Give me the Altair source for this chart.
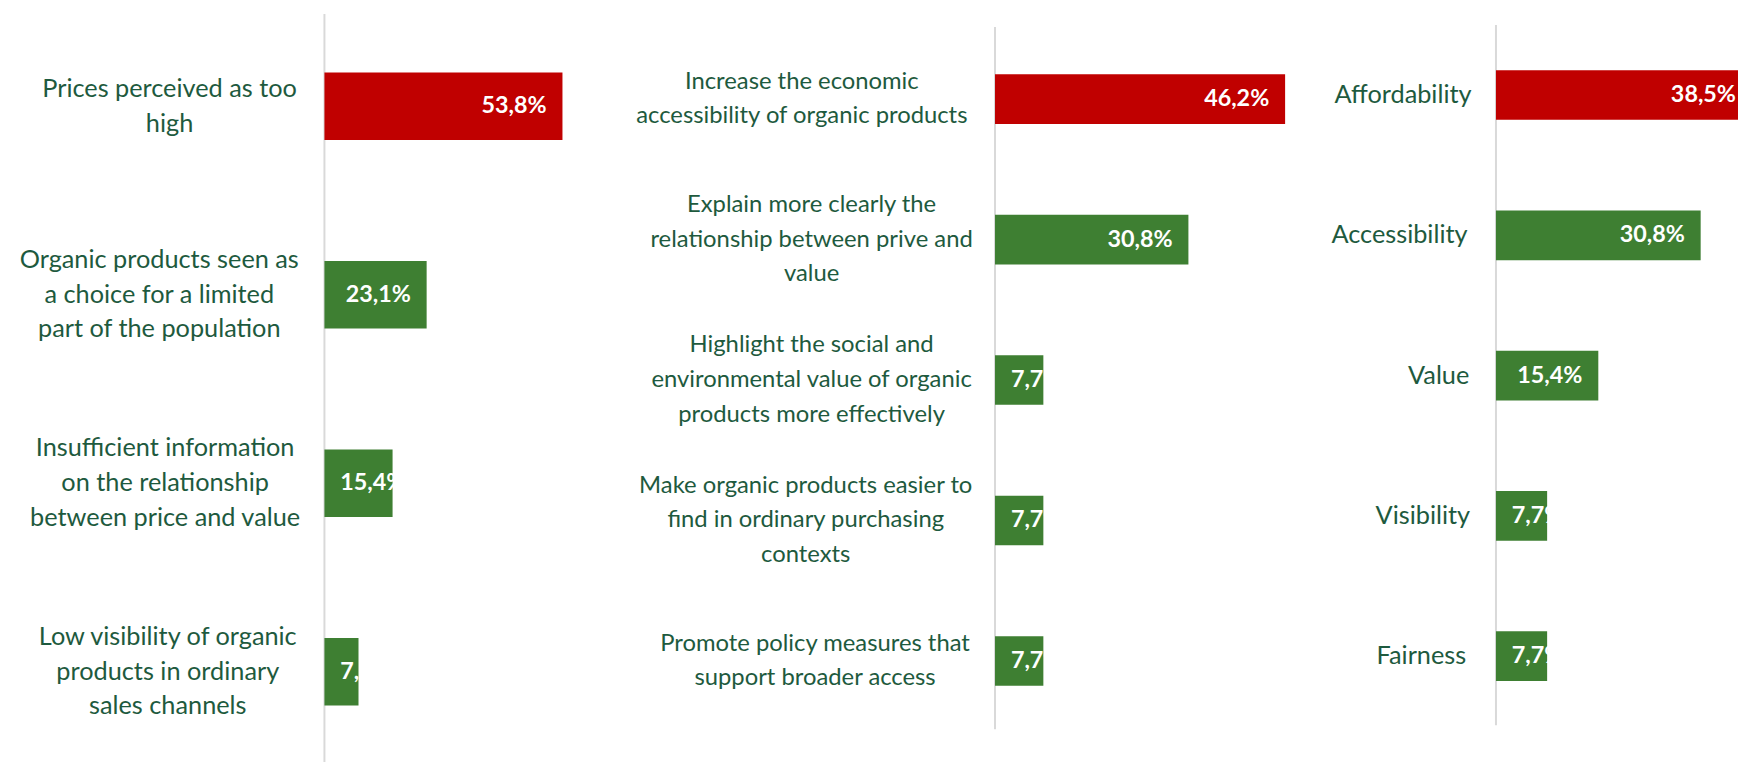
import altair as alt

# ---- data ----
p1_labels = [
    ["Prices perceived as too", "high"],
    ["Organic products seen as", "a choice for a limited", "part of the population"],
    ["Insufficient information", "on the relationship", "between price and value"],
    ["Low visibility of organic", "products in ordinary", "sales channels"],
]
p1_values = [53.8, 23.1, 15.4, 7.7]

p2_labels = [
    ["Increase the economic", "accessibility of organic products"],
    ["Explain more clearly the", "relationship between prive and", "value"],
    ["Highlight the social and", "environmental value of organic", "products more effectively"],
    ["Make organic products easier to", "find in ordinary purchasing", "contexts"],
    ["Promote policy measures that", "support broader access"],
]
p2_values = [46.2, 30.8, 7.7, 7.7, 7.7]

p3_labels = [["Affordability"], ["Accessibility"], ["Value"], ["Visibility"], ["Fairness"]]
p3_values = [38.5, 30.8, 15.4, 7.7, 7.7]

# ---- styling ----
FONT = "Lato"
VAL_SIZE = 23.5
LINE_H = 35
TEXT_COLOR = "#1E5A3E"
RED = "#C00000"
GREEN = "#3E7F32"
AXIS_COLOR = "#D9D9D9"
GAP = 27
H = 757


def est_width(s, size):
    w = 0.0
    for c in s:
        if c in "ijl.,'|":
            w += 0.23
        elif c in "ftr":
            w += 0.33
        elif c == " ":
            w += 0.26
        elif c in "mw":
            w += 0.78
        elif c.isupper():
            w += 0.62
        else:
            w += 0.52
    return w * size


def panel(labels, values, width, axis_off, pxper, yr, rule_y, band_frac, cat_size):
    n = len(values)
    step = (yr[1] - yr[0]) / n
    vmax = max(values)
    rows = []
    for k, (lab, v) in enumerate(zip(labels, values)):
        rows.append({
            "i": k, "lines": lab, "nl": len(lab), "v": v,
            "col": RED if v == vmax else GREEN,
            "w": max(est_width(s, cat_size) for s in lab),
            "r0": (rule_y[0] - yr[0]) / step,
            "r1": (rule_y[1] - yr[0]) / step,
        })
    data = alt.Data(values=rows)
    xs = alt.Scale(domain=[-axis_off / pxper, (width - axis_off) / pxper], nice=False, zero=False)
    ys = alt.Scale(domain=[-yr[0] / step, (H - yr[0]) / step], nice=False, zero=False, reverse=True)
    hb = band_frac / 2

    base = alt.Chart(data).transform_calculate(
        lab="replace(format(datum.v, '.1f'), '.', ',') + '%'",
        xl=f"-({GAP} + datum.w / 2) / {pxper}",
        zero="0",
        yc="datum.i + 0.5",
        ycat=f"datum.i + 0.5 - (datum.nl - 1) * {LINE_H / 2} / {step}",
        ya=f"datum.i + 0.5 - {hb}",
        yb=f"datum.i + 0.5 + {hb}",
    )

    bars = base.mark_bar(clip=True).encode(
        x=alt.X("v:Q", scale=xs, axis=None),
        x2="zero:Q",
        y=alt.Y("ya:Q", scale=ys, axis=None),
        y2="yb:Q",
        color=alt.Color("col:N", scale=None, legend=None),
    )
    txt_in = base.transform_filter(f"datum.v * {pxper} >= 90").mark_text(
        align="right", baseline="middle", dx=-16, font=FONT, fontWeight="bold",
        fontSize=VAL_SIZE, color="white",
    ).encode(x=alt.X("v:Q", scale=xs, axis=None),
             y=alt.Y("yc:Q", scale=ys, axis=None), text="lab:N")
    txt_small = base.transform_filter(f"datum.v * {pxper} < 90").mark_text(
        align="left", baseline="middle", dx=16, font=FONT, fontWeight="bold",
        fontSize=VAL_SIZE, color="white",
    ).encode(x=alt.X("zero:Q", scale=xs, axis=None),
             y=alt.Y("yc:Q", scale=ys, axis=None), text="lab:N")
    cats = base.mark_text(
        align="center", baseline="middle", font=FONT, fontSize=cat_size,
        color=TEXT_COLOR, lineHeight=LINE_H,
    ).encode(x=alt.X("xl:Q", scale=xs, axis=None),
             y=alt.Y("ycat:Q", scale=ys, axis=None), text="lines:N")
    rule = base.transform_filter("datum.i == 0").mark_rule(
        color=AXIS_COLOR, strokeWidth=2
    ).encode(x=alt.X("zero:Q", scale=xs, axis=None),
             y=alt.Y("r0:Q", scale=ys, axis=None), y2="r1:Q")

    return alt.layer(rule, bars, txt_small, txt_in, cats).properties(width=width, height=H)


c1 = panel(p1_labels, p1_values, 632, 319, 4.46, [1, 761], [3, 757], 68 / 190, 25.5)
c2 = panel(p2_labels, p2_values, 670, 355, 6.33, [18, 726], [16, 724], 50 / 141.6, 24)
c3 = panel(p3_labels, p3_values, 434, 190, 6.7, [14, 721], [14, 720], 50 / 141.4, 25.5)

chart = alt.hconcat(c1, c2, c3, spacing=0).properties(
    padding=0, background="white"
).configure_view(stroke=None)

chart.save("out.html", embed_options={"renderer": "svg", "actions": False})
